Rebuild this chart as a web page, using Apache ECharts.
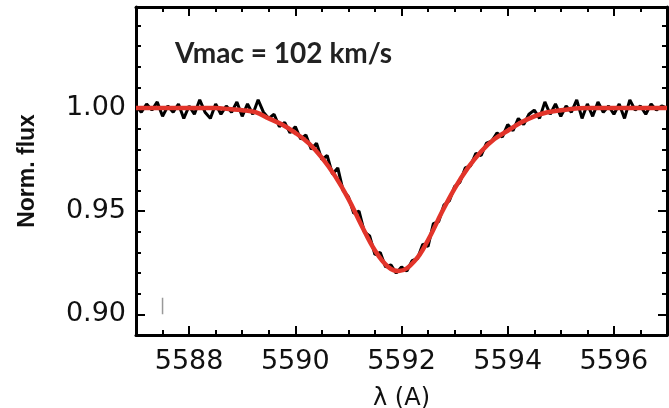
<!DOCTYPE html>
<html>
<head>
<meta charset="utf-8">
<script src="https://cdn.jsdelivr.net/npm/echarts@6/dist/echarts.min.js"></script>
<style>html,body{margin:0;padding:0;background:#fff}#c{width:669px;height:408px}</style>
</head>
<body>
<div id="c"></div>
<script>
// Observed spectrum (black): wavelength (A) and normalized flux
var obsWave = [5587.0,5587.1,5587.2,5587.3,5587.4,5587.5,5587.6,5587.7,5587.8,5587.9,
5588.0,5588.1,5588.2,5588.3,5588.4,5588.5,5588.6,5588.7,5588.8,5588.9,
5589.0,5589.1,5589.2,5589.3,5589.4,5589.5,5589.6,5589.7,5589.8,5589.9,
5590.0,5590.1,5590.2,5590.3,5590.4,5590.5,5590.6,5590.7,5590.8,5590.9,
5591.0,5591.1,5591.2,5591.3,5591.4,5591.5,5591.6,5591.7,5591.8,5591.9,
5592.0,5592.1,5592.2,5592.3,5592.4,5592.5,5592.6,5592.7,5592.8,5592.9,
5593.0,5593.1,5593.2,5593.3,5593.4,5593.5,5593.6,5593.7,5593.8,5593.9,
5594.0,5594.1,5594.2,5594.3,5594.4,5594.5,5594.6,5594.7,5594.8,5594.9,
5595.0,5595.1,5595.2,5595.3,5595.4,5595.5,5595.6,5595.7,5595.8,5595.9,
5596.0,5596.1,5596.2,5596.3,5596.4,5596.5,5596.6,5596.7,5596.8,5596.9,5597.0];
var obsFlux = [1.001,0.998,1.002,0.999,1.003,0.996,1.001,0.998,1.002,0.995,
1.001,0.997,1.004,0.998,0.995,1.002,0.997,1.001,0.998,1.003,
0.996,1.002,0.997,1.004,0.998,0.995,0.997,0.991,0.993,0.988,
0.991,0.985,0.987,0.980,0.983,0.975,0.977,0.968,0.971,0.960,
0.957,0.949,0.950,0.940,0.938,0.929,0.930,0.923,0.924,0.920,
0.923,0.921,0.926,0.927,0.934,0.933,0.944,0.945,0.953,0.955,
0.962,0.964,0.971,0.972,0.978,0.977,0.983,0.984,0.988,0.986,
0.992,0.989,0.995,0.992,0.997,0.999,0.995,1.003,0.997,1.002,
0.996,1.001,0.998,1.004,0.995,1.002,0.996,1.003,0.998,1.001,
0.997,1.002,0.995,1.004,0.999,1.001,0.997,1.002,0.999,1.001,1.000];
// Model fit (red)
var modelWave = [5587.0,5587.5,5588.0,5588.5,5588.75,5589.0,5589.25,5589.5,5589.75,5590.0,
5590.25,5590.5,5590.75,5591.0,5591.25,5591.5,5591.75,5591.95,5592.25,5592.5,
5592.75,5593.0,5593.25,5593.5,5593.75,5594.0,5594.25,5594.5,5594.75,5595.0,
5595.5,5596.0,5597.0];
var modelFlux = [1.000,1.000,1.000,1.000,0.9995,0.999,0.998,0.995,0.992,0.988,
0.983,0.976,0.967,0.956,0.943,0.931,0.923,0.921,0.926,0.936,
0.949,0.961,0.971,0.979,0.985,0.989,0.993,0.996,0.998,0.999,
1.000,1.000,1.000];
// Small grey bar near lower left
var barWave = [5587.5,5587.5];
var barFlux = [0.900,0.908];
var xMajorTicks = [5588,5590,5592,5594,5596];
var yMajorTicks = [0.90,0.95,1.00];
var annotation = 'Vmac = 102 km/s';

function pairs(a,b){return a.map(function(v,i){return [v,b[i]];});}

var XMIN=5587, XMAX=5597, YMIN=0.89, YMAX=1.049;
var lineStyle = {color:'#000', width:3};
function xAx(pos, major, labels){
  return {type:'value', position:pos, min:XMIN, max:XMAX, interval:0.5,
    axisLine:{show:!major, onZero:false, lineStyle:lineStyle},
    splitLine:{show:false},
    axisTick: major ? {show:true, inside:true, length:9, customValues:xMajorTicks, lineStyle:{color:'#000',width:2}}
                    : {show:true, inside:true, length:5, lineStyle:{color:'#000',width:2}},
    axisLabel: labels ? {show:true, customValues:xMajorTicks, margin:13, color:'#111', fontSize:27, fontFamily:'DejaVu Sans',
       formatter:function(v){return String(Math.round(v));}} : {show:false}
  };
}
function yAx(pos, major, labels){
  return {type:'value', position:pos, min:YMIN, max:YMAX, interval:0.01,
    axisLine:{show:!major, onZero:false, lineStyle:lineStyle},
    splitLine:{show:false},
    axisTick: major ? {show:true, inside:true, length:9, customValues:yMajorTicks, lineStyle:{color:'#000',width:2}}
                    : {show:true, inside:true, length:5, lineStyle:{color:'#000',width:2}},
    axisLabel: labels ? {show:true, customValues:yMajorTicks, margin:10, color:'#111', fontSize:27, fontFamily:'DejaVu Sans',
       formatter:function(v){return v.toFixed(2);}} : {show:false}
  };
}
var xa0 = xAx('bottom', false, true);
xa0.name = 'λ (A)'; xa0.nameLocation='middle'; xa0.nameGap=52;
xa0.nameTextStyle = {fontSize:24, fontFamily:'DejaVu Sans', color:'#111'};
var ya0 = yAx('left', false, true);
ya0.name = 'Norm. flux'; ya0.nameLocation='middle'; ya0.nameGap=97; ya0.nameRotate=90;
ya0.nameTextStyle = {fontSize:23, fontFamily:'Liberation Sans', fontWeight:'bold', color:'#111'};

var chart = echarts.init(document.getElementById('c'), null, {renderer:'canvas'});
chart.setOption({
  animation:false,
  backgroundColor:'#fff',
  grid:{left:136, right:2, top:7, bottom:73, containLabel:false, outerBoundsMode:'none'},
  xAxis:[xa0, xAx('bottom', true, false), xAx('top', false, false), xAx('top', true, false)],
  yAxis:[ya0, yAx('left', true, false), yAx('right', false, false), yAx('right', true, false)],
  graphic:[{type:'text', left:175, top:40, style:{text:annotation, fontSize:28, fontWeight:'bold', fontFamily:'Lato', fill:'#222'}}],
  series:[
    {type:'line', xAxisIndex:0, yAxisIndex:0, data:pairs(barWave,barFlux), symbol:'none', lineStyle:{color:'#999', width:1.5}},
    {type:'line', xAxisIndex:0, yAxisIndex:0, data:pairs(obsWave,obsFlux), symbol:'none', lineStyle:{color:'#000', width:3}},
    {type:'line', xAxisIndex:0, yAxisIndex:0, data:pairs(modelWave,modelFlux), symbol:'none', smooth:0.4, lineStyle:{color:'#e2342a', width:4.5}}
  ]
});
</script>
</body>
</html>
